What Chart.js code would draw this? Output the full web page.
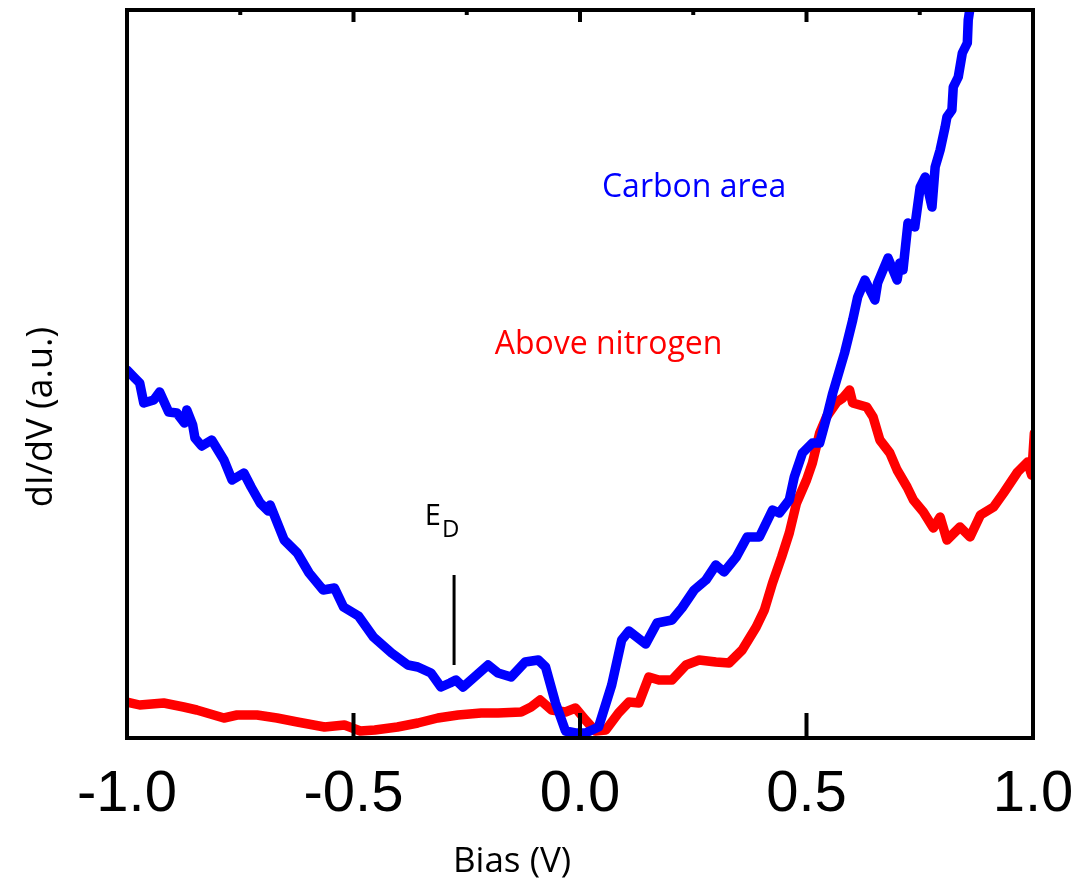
<!DOCTYPE html>
<html>
<head>
<meta charset="utf-8">
<script src="https://cdn.jsdelivr.net/npm/chart.js@4.4.1/dist/chart.umd.min.js"></script>
<style>
  html, body { margin: 0; padding: 0; background: #fff; }
  #wrap { width: 1089px; height: 889px; }
</style>
</head>
<body>
<div id="wrap"><canvas id="sts"></canvas></div>
<script>
// STS spectra, bias in V, dI/dV in arbitrary units
const carbonBias = [-1.000,-0.983,-0.972,-0.963,-0.941,-0.928,-0.908,-0.890,-0.873,-0.868,-0.855,-0.850,-0.835,-0.813,-0.786,-0.768,-0.742,-0.726,-0.706,-0.688,-0.684,-0.653,-0.624,-0.598,-0.567,-0.542,-0.522,-0.489,-0.456,-0.416,-0.380,-0.358,-0.329,-0.307,-0.287,-0.274,-0.258,-0.203,-0.181,-0.152,-0.121,-0.092,-0.076,-0.054,-0.032,-0.010,0.012,0.041,0.070,0.092,0.108,0.145,0.170,0.203,0.225,0.252,0.278,0.300,0.318,0.345,0.369,0.396,0.425,0.440,0.462,0.473,0.491,0.513,0.529,0.547,0.558,0.573,0.584,0.602,0.613,0.629,0.651,0.657,0.680,0.700,0.706,0.713,0.724,0.739,0.751,0.762,0.777,0.784,0.795,0.806,0.810,0.821,0.824,0.835,0.844,0.855,0.857,0.861,0.870];
const carbonDidv = [3.68,3.60,3.55,3.35,3.38,3.46,3.26,3.25,3.15,3.28,3.13,3.00,2.92,2.98,2.78,2.58,2.65,2.51,2.35,2.27,2.33,1.98,1.85,1.65,1.48,1.50,1.31,1.22,1.01,0.85,0.73,0.71,0.65,0.51,0.55,0.58,0.51,0.73,0.65,0.61,0.76,0.78,0.71,0.35,0.07,0.05,0.05,0.11,0.53,0.98,1.07,0.94,1.15,1.18,1.30,1.48,1.58,1.73,1.66,1.81,2.01,2.01,2.28,2.25,2.38,2.61,2.85,2.95,2.95,3.25,3.45,3.68,3.85,4.18,4.41,4.58,4.38,4.55,4.80,4.58,4.75,4.68,5.15,5.11,5.51,5.61,5.31,5.71,5.88,6.11,6.21,6.28,6.51,6.61,6.85,6.95,7.18,7.30,7.60];

const nitrogenBias = [-1.000,-0.972,-0.919,-0.875,-0.846,-0.786,-0.757,-0.713,-0.669,-0.624,-0.564,-0.520,-0.485,-0.453,-0.403,-0.358,-0.314,-0.269,-0.218,-0.181,-0.130,-0.108,-0.088,-0.063,-0.032,-0.010,0.012,0.034,0.057,0.085,0.108,0.130,0.152,0.174,0.203,0.234,0.263,0.300,0.329,0.358,0.389,0.407,0.425,0.445,0.462,0.478,0.500,0.513,0.529,0.544,0.567,0.580,0.595,0.602,0.633,0.647,0.662,0.684,0.700,0.722,0.736,0.758,0.780,0.795,0.810,0.839,0.861,0.884,0.913,0.935,0.966,0.988,0.997,1.003];
const nitrogenDidv = [0.36,0.33,0.35,0.31,0.28,0.20,0.23,0.23,0.20,0.16,0.11,0.13,0.07,0.08,0.11,0.15,0.20,0.23,0.25,0.25,0.26,0.31,0.38,0.28,0.26,0.30,0.18,0.07,0.08,0.25,0.36,0.35,0.61,0.58,0.58,0.73,0.78,0.76,0.75,0.88,1.11,1.28,1.55,1.81,2.05,2.35,2.58,2.75,3.05,3.21,3.36,3.40,3.48,3.35,3.31,3.21,2.98,2.85,2.68,2.51,2.38,2.26,2.10,2.21,1.98,2.11,2.01,2.23,2.31,2.45,2.66,2.76,2.63,3.05];

const majorTicks = [-1.0, -0.5, 0.0, 0.5, 1.0];
const minorTicks = [-0.75, -0.25, 0.25, 0.75];

// Dirac point marker
const diracBias = -0.278;
const diracSpan = [0.73, 1.63];

const BLUE = '#0000ff';
const RED = '#ff0000';
const TEXT_FONT = '"Open Sans", "Liberation Sans", sans-serif';

const toPoints = (xs, ys) => xs.map((x, i) => ({ x, y: ys[i] }));

// frame with inward ticks, axis titles and in-plot labels
const decorations = {
  id: 'decorations',
  afterDraw(chart) {
    const { ctx, chartArea: a, scales: { x, y } } = chart;
    ctx.save();
    ctx.strokeStyle = '#000';
    ctx.lineCap = 'butt';

    ctx.lineWidth = 4;
    ctx.strokeRect(a.left, a.top, a.right - a.left, a.bottom - a.top);

    const tick = (px, y0, y1) => {
      ctx.beginPath();
      ctx.moveTo(px, y0);
      ctx.lineTo(px, y1);
      ctx.stroke();
    };
    majorTicks.forEach(v => {
      const px = x.getPixelForValue(v);
      tick(px, a.bottom, a.bottom - 25);
      tick(px, a.top, a.top + 12);
    });
    minorTicks.forEach(v => tick(x.getPixelForValue(v), a.top, a.top + 5));

    // E_D marker
    ctx.lineWidth = 3;
    const dx = x.getPixelForValue(diracBias);
    tick(dx, y.getPixelForValue(diracSpan[0]), y.getPixelForValue(diracSpan[1]));

    ctx.fillStyle = '#000';
    ctx.textBaseline = 'alphabetic';
    ctx.textAlign = 'left';
    ctx.font = `29px ${TEXT_FONT}`;
    const ex = x.getPixelForValue(-0.3426);
    const ey = y.getPixelForValue(2.13);
    ctx.fillText('E', ex, ey);
    const ew = ctx.measureText('E').width;
    ctx.font = `24px ${TEXT_FONT}`;
    ctx.fillText('D', ex + ew + 1, ey + 12);

    // series labels
    ctx.textAlign = 'center';
    ctx.textBaseline = 'middle';
    ctx.font = `32px ${TEXT_FONT}`;
    ctx.fillStyle = BLUE;
    ctx.fillText('Carbon area', x.getPixelForValue(0.252), y.getPixelForValue(5.50));
    ctx.fillStyle = RED;
    ctx.fillText('Above nitrogen', x.getPixelForValue(0.063), y.getPixelForValue(3.93));

    // axis titles
    ctx.fillStyle = '#000';
    ctx.font = `35px ${TEXT_FONT}`;
    ctx.fillText('Bias (V)', x.getPixelForValue(-0.15), a.bottom + 124);
    ctx.font = `36px ${TEXT_FONT}`;
    ctx.translate(a.left - 85, y.getPixelForValue(3.21));
    ctx.rotate(-Math.PI / 2);
    ctx.fillText('dI/dV (a.u.)', 0, 0);
    ctx.restore();
  }
};

new Chart(document.getElementById('sts'), {
  type: 'line',
  data: {
    datasets: [
      {
        label: 'Carbon area',
        data: toPoints(carbonBias, carbonDidv),
        borderColor: BLUE,
        borderWidth: 9.5,
        clip: 0
      },
      {
        label: 'Above nitrogen',
        data: toPoints(nitrogenBias, nitrogenDidv),
        borderColor: RED,
        borderWidth: 9.5,
        clip: 0
      }
    ]
  },
  options: {
    responsive: true,
    maintainAspectRatio: false,
    animation: false,
    parsing: false,
    elements: {
      point: { radius: 0 },
      line: { tension: 0, borderCapStyle: 'round', borderJoinStyle: 'round', fill: false }
    },
    layout: { padding: { left: 0, right: 56, top: 10, bottom: 0 } },
    plugins: {
      legend: { display: false },
      tooltip: { enabled: false }
    },
    scales: {
      x: {
        type: 'linear',
        min: -1,
        max: 1,
        afterBuildTicks: s => { s.ticks = majorTicks.map(v => ({ value: v })); },
        afterFit: s => {
          s.height = 151;
          s.paddingLeft = 0;
          s.paddingRight = 0;
        },
        grid: { display: false, drawTicks: false },
        border: { display: false },
        ticks: {
          color: '#000',
          padding: 22,
          maxRotation: 0,
          font: { family: '"Liberation Sans", Arial, sans-serif', size: 58 },
          callback: v => v.toFixed(1)
        }
      },
      y: {
        min: 0,
        max: 7.28,
        afterFit: s => { s.width = 127; },
        grid: { display: false },
        border: { display: false },
        ticks: { display: false }
      }
    }
  },
  plugins: [decorations]
});
</script>
</body>
</html>
